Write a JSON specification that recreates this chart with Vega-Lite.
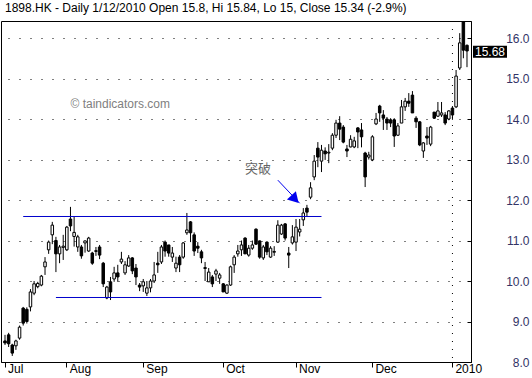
{
  "$schema": "https://vega.github.io/schema/vega-lite/v6.json",
  "width": 470,
  "height": 341,
  "autosize": {"type": "none"},
  "padding": {"left": 1, "top": 21, "right": 61, "bottom": 16},
  "background": "white",
  "config": {"view": {"stroke": "black", "strokeWidth": 1}, "font": "Liberation Sans"},
  "title": {"text": "1898.HK - Daily 1/12/2010 Open 15.8, Hi 15.84, Lo 15, Close 15.34 (-2.9%)", "anchor": "start", "fontSize": 12, "fontWeight": "normal", "font": "Liberation Sans", "color": "black", "offset": 6, "dx": 4},
  "datasets": {
    "ohlc": [
      {"d":"2009-07-09","o":8.52,"h":8.67,"l":8.42,"c":8.47},
      {"d":"2009-07-10","o":8.67,"h":8.72,"l":8.37,"c":8.45},
      {"d":"2009-07-13","o":8.42,"h":8.45,"l":8.15,"c":8.22},
      {"d":"2009-07-14","o":8.40,"h":8.55,"l":8.30,"c":8.52},
      {"d":"2009-07-15","o":8.59,"h":8.90,"l":8.55,"c":8.86},
      {"d":"2009-07-16","o":9.33,"h":9.36,"l":8.90,"c":8.96},
      {"d":"2009-07-17","o":9.30,"h":9.35,"l":8.95,"c":9.00},
      {"d":"2009-07-20","o":9.36,"h":9.80,"l":9.25,"c":9.73},
      {"d":"2009-07-21","o":9.70,"h":10.00,"l":9.65,"c":9.93},
      {"d":"2009-07-22","o":9.86,"h":9.98,"l":9.82,"c":9.94},
      {"d":"2009-07-23","o":9.90,"h":10.15,"l":9.87,"c":10.12},
      {"d":"2009-07-24","o":10.35,"h":10.59,"l":10.15,"c":10.47},
      {"d":"2009-07-27","o":10.77,"h":11.00,"l":10.67,"c":10.96},
      {"d":"2009-07-28","o":11.14,"h":11.46,"l":10.91,"c":11.38},
      {"d":"2009-07-29","o":11.00,"h":11.09,"l":10.22,"c":10.67},
      {"d":"2009-07-30","o":10.67,"h":10.89,"l":10.44,"c":10.84},
      {"d":"2009-07-31","o":10.83,"h":11.14,"l":10.52,"c":10.86},
      {"d":"2009-08-03","o":10.77,"h":11.36,"l":10.74,"c":11.33},
      {"d":"2009-08-04","o":11.53,"h":11.83,"l":11.23,"c":11.36},
      {"d":"2009-08-05","o":11.10,"h":11.58,"l":10.85,"c":11.20},
      {"d":"2009-08-06","o":10.84,"h":11.14,"l":10.72,"c":11.09},
      {"d":"2009-08-07","o":10.84,"h":10.89,"l":10.55,"c":10.62},
      {"d":"2009-08-10","o":10.94,"h":11.00,"l":10.70,"c":10.99},
      {"d":"2009-08-11","o":10.74,"h":11.09,"l":10.72,"c":11.06},
      {"d":"2009-08-12","o":10.69,"h":10.72,"l":10.40,"c":10.44},
      {"d":"2009-08-13","o":10.73,"h":10.84,"l":10.62,"c":10.75},
      {"d":"2009-08-14","o":10.84,"h":10.89,"l":10.54,"c":10.64},
      {"d":"2009-08-17","o":10.44,"h":10.47,"l":9.85,"c":9.93},
      {"d":"2009-08-18","o":9.58,"h":9.88,"l":9.55,"c":9.85},
      {"d":"2009-08-19","o":9.98,"h":10.10,"l":9.53,"c":9.73},
      {"d":"2009-08-20","o":10.05,"h":10.35,"l":9.98,"c":10.20},
      {"d":"2009-08-21","o":10.20,"h":10.40,"l":9.98,"c":10.10},
      {"d":"2009-08-24","o":10.47,"h":10.72,"l":10.42,"c":10.54},
      {"d":"2009-08-25","o":10.20,"h":10.49,"l":10.15,"c":10.40},
      {"d":"2009-08-26","o":10.37,"h":10.64,"l":10.35,"c":10.57},
      {"d":"2009-08-27","o":10.57,"h":10.59,"l":10.17,"c":10.25},
      {"d":"2009-08-28","o":10.32,"h":10.42,"l":9.90,"c":10.10},
      {"d":"2009-08-31","o":9.90,"h":9.95,"l":9.75,"c":9.85},
      {"d":"2009-09-01","o":9.88,"h":10.05,"l":9.73,"c":9.98},
      {"d":"2009-09-02","o":9.70,"h":10.00,"l":9.63,"c":9.83},
      {"d":"2009-09-03","o":9.83,"h":10.05,"l":9.72,"c":10.00},
      {"d":"2009-09-04","o":10.00,"h":10.47,"l":9.95,"c":10.15},
      {"d":"2009-09-07","o":10.44,"h":10.72,"l":10.20,"c":10.40},
      {"d":"2009-09-08","o":10.47,"h":10.89,"l":10.42,"c":10.84},
      {"d":"2009-09-09","o":10.96,"h":11.00,"l":10.60,"c":10.74},
      {"d":"2009-09-10","o":10.89,"h":10.89,"l":10.60,"c":10.69},
      {"d":"2009-09-11","o":10.59,"h":10.84,"l":10.47,"c":10.69},
      {"d":"2009-09-14","o":10.32,"h":10.60,"l":10.22,"c":10.44},
      {"d":"2009-09-15","o":10.59,"h":10.64,"l":10.22,"c":10.40},
      {"d":"2009-09-16","o":10.59,"h":10.96,"l":10.55,"c":10.94},
      {"d":"2009-09-17","o":11.19,"h":11.68,"l":11.14,"c":11.26},
      {"d":"2009-09-18","o":11.46,"h":11.48,"l":10.96,"c":11.19},
      {"d":"2009-09-21","o":11.14,"h":11.20,"l":10.62,"c":10.74},
      {"d":"2009-09-22","o":10.86,"h":10.96,"l":10.69,"c":10.81},
      {"d":"2009-09-23","o":10.72,"h":10.77,"l":10.44,"c":10.57},
      {"d":"2009-09-24","o":10.33,"h":10.47,"l":10.00,"c":10.31},
      {"d":"2009-09-25","o":9.98,"h":10.32,"l":9.98,"c":10.22},
      {"d":"2009-09-28","o":10.10,"h":10.15,"l":9.85,"c":9.93},
      {"d":"2009-09-29","o":10.17,"h":10.30,"l":10.00,"c":10.25},
      {"d":"2009-09-30","o":10.07,"h":10.20,"l":9.93,"c":10.15},
      {"d":"2009-10-02","o":9.93,"h":9.95,"l":9.73,"c":9.73},
      {"d":"2009-10-05","o":9.70,"h":9.92,"l":9.68,"c":9.90},
      {"d":"2009-10-06","o":9.90,"h":10.38,"l":9.88,"c":10.35},
      {"d":"2009-10-07","o":10.40,"h":10.64,"l":10.20,"c":10.59},
      {"d":"2009-10-08","o":10.67,"h":10.89,"l":10.60,"c":10.74},
      {"d":"2009-10-09","o":10.77,"h":11.00,"l":10.62,"c":10.89},
      {"d":"2009-10-12","o":11.06,"h":11.08,"l":10.67,"c":10.67},
      {"d":"2009-10-13","o":10.64,"h":10.89,"l":10.60,"c":10.81},
      {"d":"2009-10-14","o":10.81,"h":11.00,"l":10.77,"c":10.89},
      {"d":"2009-10-15","o":11.28,"h":11.30,"l":10.89,"c":10.91},
      {"d":"2009-10-16","o":10.99,"h":11.00,"l":10.55,"c":10.59},
      {"d":"2009-10-19","o":10.57,"h":10.89,"l":10.52,"c":10.84},
      {"d":"2009-10-20","o":10.96,"h":10.98,"l":10.64,"c":10.72},
      {"d":"2009-10-21","o":10.59,"h":10.86,"l":10.57,"c":10.81},
      {"d":"2009-10-22","o":10.71,"h":10.86,"l":10.62,"c":10.73},
      {"d":"2009-10-23","o":10.96,"h":11.50,"l":10.94,"c":11.38},
      {"d":"2009-10-27","o":11.16,"h":11.41,"l":11.14,"c":11.38},
      {"d":"2009-10-28","o":11.41,"h":11.43,"l":11.00,"c":11.06},
      {"d":"2009-10-29","o":10.69,"h":10.84,"l":10.32,"c":10.64},
      {"d":"2009-10-30","o":10.94,"h":11.38,"l":10.90,"c":11.09},
      {"d":"2009-11-02","o":10.96,"h":11.53,"l":10.74,"c":11.33},
      {"d":"2009-11-03","o":11.21,"h":11.53,"l":11.10,"c":11.28},
      {"d":"2009-11-04","o":11.51,"h":11.80,"l":11.36,"c":11.68},
      {"d":"2009-11-05","o":11.80,"h":11.88,"l":11.58,"c":11.70},
      {"d":"2009-11-06","o":12.07,"h":12.44,"l":12.02,"c":12.30},
      {"d":"2009-11-09","o":12.57,"h":13.11,"l":12.49,"c":12.96},
      {"d":"2009-11-10","o":13.28,"h":13.43,"l":12.81,"c":13.06},
      {"d":"2009-11-11","o":12.96,"h":13.36,"l":12.69,"c":13.23},
      {"d":"2009-11-12","o":13.21,"h":13.30,"l":12.99,"c":13.14},
      {"d":"2009-11-13","o":13.16,"h":13.38,"l":12.91,"c":13.18},
      {"d":"2009-11-16","o":13.28,"h":13.65,"l":13.23,"c":13.60},
      {"d":"2009-11-17","o":13.60,"h":13.98,"l":13.53,"c":13.90},
      {"d":"2009-11-18","o":13.90,"h":14.07,"l":13.48,"c":13.75},
      {"d":"2009-11-19","o":13.80,"h":13.85,"l":13.40,"c":13.43},
      {"d":"2009-11-20","o":13.26,"h":13.36,"l":13.06,"c":13.21},
      {"d":"2009-11-23","o":13.31,"h":13.60,"l":13.30,"c":13.50},
      {"d":"2009-11-24","o":13.31,"h":13.56,"l":13.28,"c":13.46},
      {"d":"2009-11-25","o":13.78,"h":13.80,"l":13.28,"c":13.68},
      {"d":"2009-11-26","o":13.73,"h":13.90,"l":13.30,"c":13.56},
      {"d":"2009-11-27","o":13.16,"h":13.19,"l":12.32,"c":12.57},
      {"d":"2009-11-30","o":13.06,"h":13.19,"l":13.00,"c":13.11},
      {"d":"2009-12-01","o":12.99,"h":13.60,"l":12.96,"c":13.56},
      {"d":"2009-12-02","o":13.88,"h":14.15,"l":13.85,"c":14.00},
      {"d":"2009-12-03","o":14.32,"h":14.35,"l":13.93,"c":14.15},
      {"d":"2009-12-04","o":14.10,"h":14.22,"l":13.73,"c":14.02},
      {"d":"2009-12-07","o":14.00,"h":14.05,"l":13.73,"c":13.90},
      {"d":"2009-12-08","o":13.98,"h":14.02,"l":13.80,"c":13.90},
      {"d":"2009-12-09","o":13.98,"h":14.02,"l":13.31,"c":13.58},
      {"d":"2009-12-10","o":13.60,"h":13.90,"l":13.58,"c":13.83},
      {"d":"2009-12-11","o":13.90,"h":14.47,"l":13.90,"c":14.30},
      {"d":"2009-12-14","o":14.30,"h":14.52,"l":14.20,"c":14.44},
      {"d":"2009-12-15","o":14.44,"h":14.64,"l":14.30,"c":14.39},
      {"d":"2009-12-16","o":14.59,"h":14.69,"l":14.15,"c":14.15},
      {"d":"2009-12-17","o":14.02,"h":14.07,"l":13.78,"c":13.93},
      {"d":"2009-12-18","o":13.93,"h":13.95,"l":13.33,"c":13.36},
      {"d":"2009-12-21","o":13.21,"h":13.43,"l":13.04,"c":13.41},
      {"d":"2009-12-22","o":13.58,"h":13.80,"l":13.36,"c":13.53},
      {"d":"2009-12-23","o":13.38,"h":13.83,"l":13.33,"c":13.80},
      {"d":"2009-12-24","o":14.17,"h":14.17,"l":14.00,"c":14.02},
      {"d":"2009-12-28","o":14.07,"h":14.42,"l":14.05,"c":14.20},
      {"d":"2009-12-29","o":14.10,"h":14.42,"l":14.05,"c":14.15},
      {"d":"2009-12-30","o":14.10,"h":14.17,"l":13.85,"c":13.90},
      {"d":"2009-12-31","o":14.00,"h":14.22,"l":13.97,"c":14.20},
      {"d":"2010-01-06","o":14.27,"h":14.32,"l":13.98,"c":14.10},
      {"d":"2010-01-07","o":14.30,"h":15.21,"l":14.27,"c":15.06},
      {"d":"2010-01-08","o":15.26,"h":16.12,"l":15.21,"c":15.88},
      {"d":"2010-01-11","o":16.40,"h":16.42,"l":15.50,"c":15.70},
      {"d":"2010-01-12","o":15.82,"h":15.84,"l":15.28,"c":15.68}
    ],
    "one": [{}]
  },
  "data": {"name": "ohlc"},
  "layer": [
    {
      "mark": {"type": "rule", "color": "black", "strokeWidth": 1},
      "encoding": {
        "x": {"field": "d", "type": "ordinal",
          "scale": {"type": "band", "paddingInner": 0, "paddingOuter": 0.6},
          "axis": {"values": ["2009-07-09","2009-08-03","2009-09-01","2009-10-02","2009-11-02","2009-12-01","2010-01-06"],
            "labelExpr": "substring(datum.value,5,7) == '07' ? 'Jul' : substring(datum.value,5,7) == '08' ? 'Aug' : substring(datum.value,5,7) == '09' ? 'Sep' : substring(datum.value,5,7) == '10' ? 'Oct' : substring(datum.value,5,7) == '11' ? 'Nov' : substring(datum.value,5,7) == '12' ? 'Dec' : '2010'",
            "title": null, "grid": false, "domainColor": "black", "tickColor": "black", "tickSize": 5,
            "labelAlign": "left", "labelOffset": 3, "labelPadding": -4, "labelBaseline": "top",
            "labelColor": "black", "labelFontSize": 12, "labelFont": "Liberation Sans", "labelAngle": 0}},
        "y": {"field": "l", "type": "quantitative",
          "scale": {"domain": [8, 16.42], "nice": false, "zero": false},
          "axis": {"orient": "right", "values": [8,9,10,11,12,13,14,15,16], "format": ".1f", "title": null,
            "grid": true, "gridColor": "black", "gridDash": [1, 10], "gridOpacity": 1,
            "domainColor": "black", "tickColor": "black", "tickSize": -4,
            "labelAlign": "right", "labelPadding": 62, "labelBaseline": "middle",
            "labelColor": "#333366", "labelFontSize": 12, "labelFont": "Liberation Sans"}},
        "y2": {"field": "h"}
      }
    },
    {
      "mark": {"type": "bar", "width": 2.5, "stroke": "black", "strokeWidth": 1},
      "encoding": {
        "x": {"field": "d", "type": "ordinal"},
        "y": {"field": "o", "type": "quantitative"},
        "y2": {"field": "c"},
        "fill": {"condition": {"test": "datum.c >= datum.o", "value": "white"}, "value": "black"}
      }
    },
    {
      "data": {"name": "one"},
      "mark": {"type": "rule", "color": "#0000cc", "strokeWidth": 1},
      "encoding": {"x": {"datum": "2009-07-16"}, "x2": {"datum": "2009-11-11"}, "y": {"datum": 11.593}}
    },
    {
      "data": {"name": "one"},
      "mark": {"type": "rule", "color": "#0000cc", "strokeWidth": 1},
      "encoding": {"x": {"datum": "2009-07-29"}, "x2": {"datum": "2009-11-11"}, "y": {"datum": 9.593}}
    },
    {
      "data": {"name": "one"},
      "mark": {"type": "rule", "color": "black", "strokeWidth": 1, "strokeDash": [1, 7]},
      "encoding": {"x": {"datum": "2010-01-06"}}
    },
    {
      "data": {"name": "one"},
      "mark": {"type": "rule", "color": "#0000ee", "strokeWidth": 1},
      "encoding": {"x": {"datum": "2009-10-23"}, "x2": {"datum": "2009-11-03"}, "y": {"datum": 12.49}, "y2": {"datum": 11.92}}
    },
    {
      "data": {"name": "one"},
      "mark": {"type": "point", "shape": "triangle-right", "angle": 47, "size": 150, "filled": true, "color": "#0000ee", "opacity": 1, "xOffset": -1},
      "encoding": {"x": {"datum": "2009-11-02"}, "y": {"datum": 12.02}}
    },
    {
      "data": {"name": "one"},
      "mark": {"type": "text", "text": "突破", "font": "Noto Sans CJK SC", "fontSize": 13, "color": "#666666", "align": "center", "baseline": "middle", "dx": 2},
      "encoding": {"x": {"datum": "2009-10-15"}, "y": {"datum": 12.77}}
    },
    {
      "data": {"name": "one"},
      "mark": {"type": "text", "text": "© taindicators.com", "font": "Liberation Sans", "fontSize": 12, "color": "#808080", "align": "left", "baseline": "middle"},
      "encoding": {"x": {"datum": "2009-08-04"}, "y": {"datum": 14.36}}
    },
    {
      "data": {"name": "one"},
      "mark": {"type": "point", "shape": "M-1,-0.353L1,-0.353L1,0.353L-1,0.353Z", "size": 1156, "filled": true, "color": "black", "opacity": 1, "xOffset": 23},
      "encoding": {"x": {"datum": "2010-01-12"}, "y": {"datum": 15.66}}
    },
    {
      "data": {"name": "one"},
      "mark": {"type": "text", "text": "15.68", "font": "Liberation Sans", "fontSize": 12, "color": "white", "align": "center", "baseline": "middle", "dx": 23},
      "encoding": {"x": {"datum": "2010-01-12"}, "y": {"datum": 15.66}}
    }
  ]
}
